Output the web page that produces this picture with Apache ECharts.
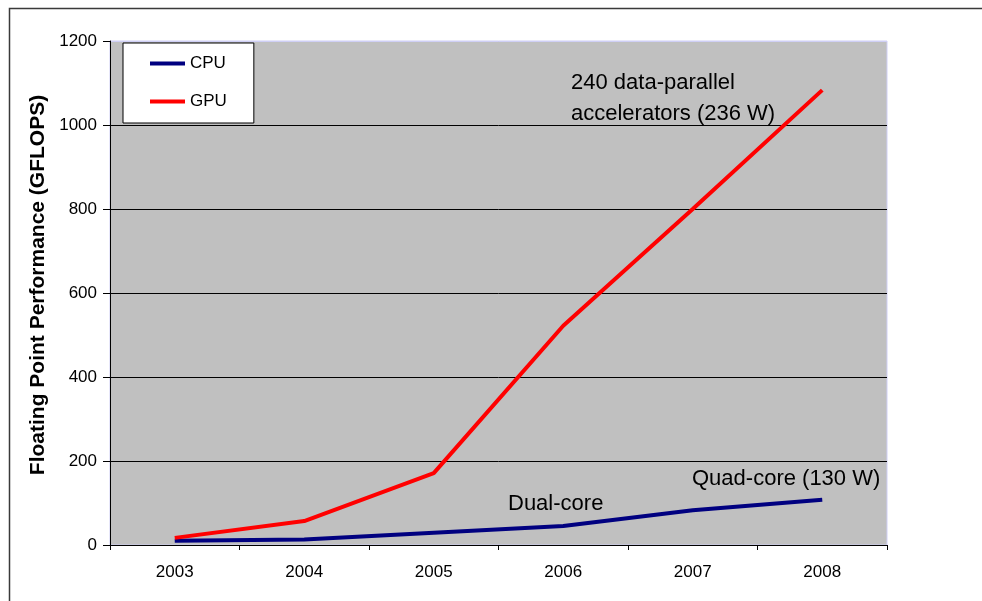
<!DOCTYPE html>
<html>
<head>
<meta charset="utf-8">
<script src="https://cdn.jsdelivr.net/npm/echarts@6/dist/echarts.min.js"></script>
<style>
  html, body { margin: 0; padding: 0; background: #fff; }
  #chart { width: 982px; height: 601px; }
</style>
</head>
<body>
<div id="chart"></div>
<script>
// Peak floating point throughput, GFLOPS per year
const years = ['2003', '2004', '2005', '2006', '2007', '2008'];
const cpuGflops = [10, 13, 29, 45, 83, 108];
const gpuGflops = [17, 57, 171, 522, 800, 1083];
const yTicks = { min: 0, max: 1200, step: 200 };

const FONT = '"Liberation Sans", Arial, sans-serif';

const chart = echarts.init(document.getElementById('chart'), null, { renderer: 'canvas' });

chart.setOption({
  animation: false,
  backgroundColor: '#ffffff',
  textStyle: { fontFamily: FONT },
  grid: {
    left: 110, right: 95, top: 41, bottom: 56,
    show: true,
    backgroundColor: '#c0c0c0',
    borderColor: '#cfcff5',
    borderWidth: 1
  },
  legend: {
    left: 123, top: 43,
    orient: 'vertical',
    backgroundColor: '#ffffff',
    borderColor: '#000000',
    borderWidth: 1,
    padding: [12, 27, 13, 27],
    itemGap: 21,
    itemWidth: 35,
    itemHeight: 4,
    icon: 'rect',
    textStyle: { fontFamily: FONT, fontSize: 17, color: '#000' },
    data: ['CPU', 'GPU']
  },
  xAxis: {
    type: 'category',
    data: years,
    boundaryGap: true,
    axisLine: { lineStyle: { color: '#000', width: 1 } },
    axisTick: { show: true, length: 5, lineStyle: { color: '#000' } },
    axisLabel: { fontFamily: FONT, fontSize: 17, color: '#000', margin: 19 },
    splitLine: { show: false }
  },
  yAxis: {
    type: 'value',
    min: yTicks.min, max: yTicks.max, interval: yTicks.step,
    name: 'Floating Point Performance (GFLOPS)',
    nameLocation: 'middle',
    nameRotate: 90,
    nameGap: 61,
    nameTextStyle: {
      fontFamily: FONT, fontSize: 21, fontWeight: 'bold', color: '#000',
      padding: [0, 0, 0, 16]
    },
    axisLine: { show: true, lineStyle: { color: '#000', width: 1 } },
    axisTick: { show: true, length: 7, lineStyle: { color: '#000' } },
    axisLabel: {
      fontFamily: FONT, fontSize: 17, color: '#000', margin: 13,
      formatter: (v) => String(v)
    },
    splitLine: {
      show: true,
      lineStyle: {
        color: ['#000', '#000', '#000', '#000', '#000', '#000', '#cfcff5'],
        width: 1
      }
    }
  },
  series: [
    {
      name: 'CPU', type: 'line', data: cpuGflops,
      showSymbol: false, symbol: 'none',
      itemStyle: { color: '#000080' },
      lineStyle: { color: '#000080', width: 4 },
      z: 3
    },
    {
      name: 'GPU', type: 'line', data: gpuGflops,
      showSymbol: false, symbol: 'none',
      itemStyle: { color: '#ff0000' },
      lineStyle: { color: '#ff0000', width: 4 },
      z: 4
    }
  ],
  graphic: [
    {
      type: 'rect', silent: true, z: 100,
      shape: { x: 9.5, y: 8.5, width: 1100, height: 800 },
      style: { fill: 'none', stroke: '#3a3a3a', lineWidth: 1.5 }
    },
    {
      type: 'text', z: 100, left: 571, top: 67,
      style: {
        text: '240 data-parallel\naccelerators (236 W)',
        font: '22px ' + FONT, fill: '#000', lineHeight: 31
      }
    },
    {
      type: 'text', z: 100, left: 508, top: 493,
      style: { text: 'Dual-core', font: '22px ' + FONT, fill: '#000' }
    },
    {
      type: 'text', z: 100, left: 692, top: 468,
      style: { text: 'Quad-core (130 W)', font: '22px ' + FONT, fill: '#000' }
    }
  ]
});
</script>
</body>
</html>
